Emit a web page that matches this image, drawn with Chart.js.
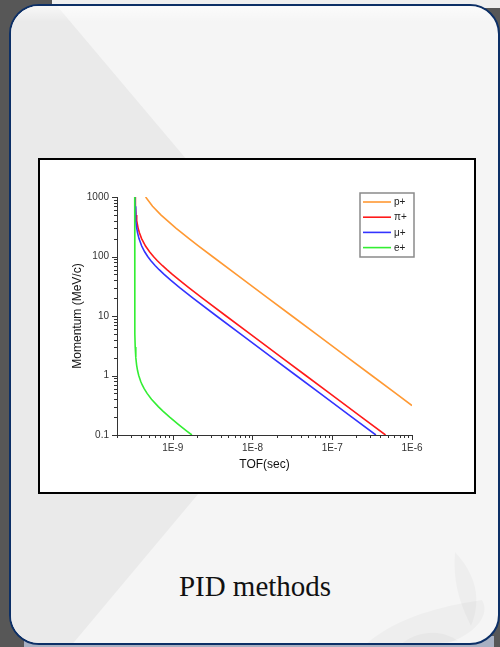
<!DOCTYPE html>
<html>
<head>
<meta charset="utf-8">
<script src="https://cdn.jsdelivr.net/npm/chart.js@4.4.1/dist/chart.umd.min.js"></script>
<style>
  html, body { margin: 0; padding: 0; }
  body { width: 500px; height: 647px; position: relative; overflow: hidden; background: #575757; }
  #topstrip { position: absolute; left: 52px; top: 0; width: 448px; height: 8px; background: #efefef; }
  #botstrip { position: absolute; left: 24px; top: 636px; width: 470px; height: 11px; background: #a7b0c2; }
  #card { position: absolute; left: 9px; top: 4px; width: 491px; height: 641px; box-sizing: border-box;
          border: 2px solid #0c2f66; border-radius: 30px; overflow: hidden; background: #f5f5f5; }
  #band { position: absolute; left: -11px; top: -6px; width: 500px; height: 647px; background: #eaeaea;
          clip-path: polygon(0 0, 52px 0, 333px 333px, 70px 647px, 0 647px); }
  #sheen { position: absolute; left: 0; top: 0; width: 100%; height: 16px;
           background: linear-gradient(rgba(255,255,255,0.65), rgba(255,255,255,0)); }
  #mark { position: absolute; left: -11px; top: -6px; width: 500px; height: 647px; }
  #frame { position: absolute; left: 38px; top: 158px; width: 438px; height: 336px; box-sizing: border-box;
           border: 2px solid #000; background: #fff; }
  #frame canvas { display: block; }
  #caption { position: absolute; left: 105px; top: 572px; width: 300px; text-align: center;
             font-family: "Liberation Serif", "Times New Roman", serif; font-size: 29px; line-height: 29px; color: #111; }
</style>
</head>
<body>
<div id="topstrip"></div>
<div id="botstrip"></div>
<div id="card">
  <div id="band"></div>
  <div id="sheen"></div>
  <svg id="mark" viewBox="0 0 500 647" xmlns="http://www.w3.org/2000/svg">
    <g fill="rgba(0,0,0,0.028)">
      <path d="M455 552 C476 574 482 600 471 626 C463 610 452 586 455 552 Z"/>
      <path d="M365 645 C395 618 440 606 482 600 C492 616 472 640 432 647 Z"/>
      <path d="M398 647 C414 631 440 628 458 641 Z"/>
    </g>
  </svg>
</div>
<div id="frame"><canvas id="chart" width="434" height="332"></canvas></div>
<div id="caption">PID methods</div>

<script>
// Time of flight (s) against momentum (MeV/c) for each particle type
const seriesLabels = ['p+', 'π+', 'μ+', 'e+'];

const protonP   = [1000, 700, 500, 300, 200, 150, 100, 50, 30, 20, 10, 5, 2, 1, 0.5, 0.313];
const protonTof = [4.57e-10, 5.58e-10, 7.09e-10, 1.095e-9, 1.60e-9, 2.113e-9, 3.147e-9, 6.268e-9,
                   1.044e-8, 1.565e-8, 3.130e-8, 6.260e-8, 1.565e-7, 3.130e-7, 6.259e-7, 1.0e-6];

const pionP   = [1000, 700, 500, 400, 300, 250, 200, 150, 120, 100, 85, 70, 60, 50, 40, 30, 20, 10, 5, 2, 1, 0.5, 0.2, 0.1];
const pionTof = [3.368e-10, 3.401e-10, 3.463e-10, 3.533e-10, 3.679e-10, 3.820e-10, 4.068e-10, 4.556e-10,
                 5.116e-10, 5.727e-10, 6.413e-10, 7.440e-10, 8.446e-10, 9.891e-10, 1.211e-9, 1.587e-9,
                 2.352e-9, 4.667e-9, 9.317e-9, 2.328e-8, 4.656e-8, 9.311e-8, 2.328e-7, 4.656e-7];

const muonP   = [1000, 700, 500, 400, 300, 250, 200, 150, 120, 100, 85, 70, 60, 50, 40, 30, 20, 10, 5, 2, 1, 0.5, 0.2, 0.1];
const muonTof = [3.354e-10, 3.373e-10, 3.409e-10, 3.450e-10, 3.536e-10, 3.621e-10, 3.773e-10, 4.080e-10,
                 4.444e-10, 4.853e-10, 5.322e-10, 6.040e-10, 6.755e-10, 7.798e-10, 9.421e-10, 1.221e-9,
                 1.794e-9, 3.540e-9, 7.057e-9, 1.763e-8, 3.525e-8, 7.049e-8, 1.762e-7, 3.524e-7];

const electronP   = [1000, 10, 5, 3, 2, 1.5, 1.2, 1, 0.8, 0.7, 0.6, 0.5, 0.4, 0.3, 0.25, 0.2, 0.15, 0.12, 0.1];
const electronTof = [3.336e-10, 3.340e-10, 3.353e-10, 3.384e-10, 3.443e-10, 3.524e-10, 3.625e-10, 3.746e-10,
                     3.958e-10, 4.130e-10, 4.381e-10, 4.769e-10, 5.412e-10, 6.588e-10, 7.590e-10, 9.152e-10,
                     1.184e-9, 1.459e-9, 1.737e-9];

// Axis ranges and labelled decades
const xMin = 2e-10, xMax = 1e-6;
const yMin = 0.1, yMax = 1000;
const xMajorTicks = [1e-9, 1e-8, 1e-7, 1e-6];
const xTickLabels = ['1E-9', '1E-8', '1E-7', '1E-6'];
const yMajorTicks = [0.1, 1, 10, 100, 1000];
const yTickLabels = ['0.1', '1', '10', '100', '1000'];

const lineColors = ['#ff9933', '#ff1a1a', '#3333ff', '#33ee33'];

function toPoints(xs, ys) { return xs.map((x, i) => ({ x: x, y: ys[i] })); }

// 1..9 x 10^n tick positions inside [min, max]; majors are flagged with their label
function decadeTicks(min, max, majors, labels) {
  const ticks = [];
  const d0 = Math.floor(Math.log10(min) + 1e-9), d1 = Math.ceil(Math.log10(max) - 1e-9);
  for (let d = d0; d <= d1; d++) {
    for (let k = 1; k <= 9; k++) {
      const v = k * Math.pow(10, d);
      if (v < min * (1 - 1e-9) || v > max * (1 + 1e-9)) continue;
      const idx = majors.findIndex(m => Math.abs(Math.log10(m) - Math.log10(v)) < 1e-6);
      ticks.push({ value: v, major: idx >= 0, label: idx >= 0 ? labels[idx] : '' });
    }
  }
  return ticks;
}

// Outward tick marks: long at labelled decades, short in between
const tickMarks = {
  id: 'tickMarks',
  afterDraw(chart) {
    const { ctx } = chart;
    const xs = chart.scales.x, ys = chart.scales.y;
    ctx.save();
    ctx.strokeStyle = '#333';
    ctx.lineWidth = 1;
    ctx.beginPath();
    xs.ticks.forEach(t => {
      const px = Math.round(xs.getPixelForValue(t.value)) + 0.5;
      ctx.moveTo(px, xs.top);
      ctx.lineTo(px, xs.top + (t.major ? 5 : 3));
    });
    ys.ticks.forEach(t => {
      const py = Math.round(ys.getPixelForValue(t.value)) + 0.5;
      ctx.moveTo(ys.right, py);
      ctx.lineTo(ys.right - (t.major ? 5 : 3), py);
    });
    ctx.stroke();
    ctx.restore();
  }
};

// Framed legend in the upper right of the plot
const boxLegend = {
  id: 'boxLegend',
  afterDraw(chart) {
    const { ctx, chartArea } = chart;
    const bx = chartArea.right - 52, by = chartArea.top - 4, bw = 54, bh = 64;
    ctx.save();
    ctx.fillStyle = '#fff';
    ctx.fillRect(bx, by, bw, bh);
    ctx.strokeStyle = '#8a8a8a';
    ctx.lineWidth = 1.5;
    ctx.strokeRect(bx, by, bw, bh);
    ctx.font = '10px "Liberation Sans", Arial, sans-serif';
    ctx.textBaseline = 'middle';
    ctx.fillStyle = '#222';
    chart.data.datasets.forEach((ds, i) => {
      const y = by + 9 + i * 15.2;
      ctx.strokeStyle = ds.borderColor;
      ctx.lineWidth = 1.6;
      ctx.beginPath();
      ctx.moveTo(bx + 3, y);
      ctx.lineTo(bx + 31, y);
      ctx.stroke();
      ctx.fillText(ds.label, bx + 34, y + 0.5);
    });
    ctx.restore();
  }
};

Chart.defaults.font.family = '"Liberation Sans", Arial, sans-serif';

const seriesX = [protonTof, pionTof, muonTof, electronTof];
const seriesY = [protonP, pionP, muonP, electronP];

new Chart(document.getElementById('chart'), {
  type: 'scatter',
  data: {
    datasets: seriesLabels.map((label, i) => ({
      label: label,
      data: toPoints(seriesX[i], seriesY[i]),
      showLine: true,
      borderColor: lineColors[i],
      backgroundColor: lineColors[i],
      borderWidth: 1.6,
      pointRadius: 0,
      tension: 0,
      order: seriesLabels.length - 1 - i
    }))
  },
  options: {
    responsive: false,
    animation: false,
    layout: { padding: { left: 0, top: 37, right: 62, bottom: 0 } },
    plugins: { legend: { display: false }, tooltip: { enabled: false } },
    scales: {
      x: {
        type: 'logarithmic',
        min: xMin, max: xMax,
        grid: { display: false, drawTicks: false },
        border: { display: true, color: '#333', width: 1 },
        afterBuildTicks: s => { s.ticks = decadeTicks(xMin, xMax, xMajorTicks, xTickLabels); },
        afterFit: s => { s.height = 57; },
        ticks: {
          autoSkip: false, maxRotation: 0, minRotation: 0, padding: 7,
          color: '#333', font: { size: 10 },
          callback: (v, i, t) => t[i].label
        },
        title: { display: true, text: 'TOF(sec)', color: '#111', font: { size: 12 }, padding: { top: 0, bottom: 20 } }
      },
      y: {
        type: 'logarithmic',
        min: yMin, max: yMax,
        grid: { display: false, drawTicks: false },
        border: { display: true, color: '#333', width: 1 },
        afterBuildTicks: s => { s.ticks = decadeTicks(yMin, yMax, yMajorTicks, yTickLabels); },
        afterFit: s => { s.width = 77; },
        ticks: {
          autoSkip: false, padding: 8,
          color: '#333', font: { size: 10 },
          callback: (v, i, t) => t[i].label
        },
        title: { display: true, text: 'Momentum (MeV/c)', color: '#111', font: { size: 12 }, padding: { top: 30, bottom: 0 } }
      }
    }
  },
  plugins: [tickMarks, boxLegend]
});
</script>
</body>
</html>
